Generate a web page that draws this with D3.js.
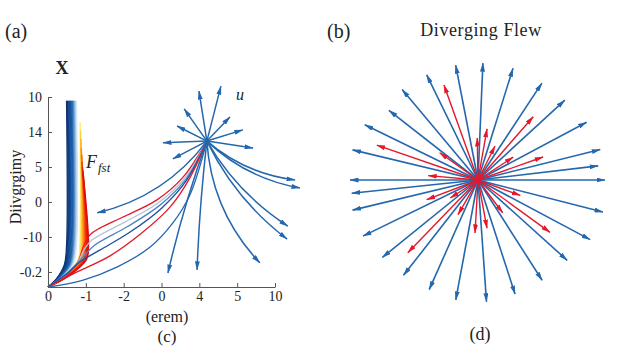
<!DOCTYPE html>
<html>
<head>
<meta charset="utf-8">
<script src="https://cdn.jsdelivr.net/npm/d3@7"></script>
<style>
  body { margin: 0; background: #fff; }
  text { font-family: "Liberation Serif", "Times New Roman", serif; fill: #222; }
</style>
</head>
<body>
<div id="chart"></div>
<script>
const width = 617
const height = 360
const blue = '#2467ad'
const red = '#e3192b'

// ---- left panel data (tick positions are index based, labels as printed)
const xTickLabels = ['0', '-1', '-2', '0', '4', '5', '10']
const yTickLabels = ['-0.2', '-10', '0', '5', '14', '10']

// vertical colour band made of many lines
const bandBlueX = [0.49, 0.51, 0.53, 0.55, 0.57, 0.59, 0.61, 0.63, 0.65, 0.67, 0.69, 0.71, 0.73, 0.75]
const bandWarmBottomX = [0.84, 0.87, 0.90, 0.93, 0.96, 0.99, 1.02, 1.05, 1.07]
const bandWarmTopX = [0.85, 0.86, 0.87, 0.88, 0.89, 0.90, 0.91, 0.92, 0.93]
const bandWarmTopY = [4.28, 4.05, 3.8, 3.55, 3.35, 3.15, 3.0, 2.9, 2.8]
const bandWarmColors = ['#ffe97a', '#ffd23a', '#ffb21f', '#ff8c14', '#fb6410', '#f3400c', '#ea220b', '#e2120c', '#d90d0d']

// curves from origin to the source point
const fanCurves = [
  [[0, -0.43], [0.48, -0.09], [0.79, 0.29], [0.95, 0.77], [1.11, 1.06], [1.38, 1.26], [1.98, 1.57], [2.88, 2.06], [3.57, 2.71], [4.2, 3.74]],
  [[0, -0.43], [0.5, -0.05], [0.8, 0.3], [0.95, 0.63], [1.16, 0.91], [2.04, 1.43], [2.91, 1.97], [3.62, 2.69], [4.2, 3.74]],
  [[0, -0.43], [0.52, -0.02], [0.82, 0.3], [0.98, 0.49], [1.24, 0.77], [2.09, 1.29], [2.96, 1.91], [3.65, 2.66], [4.2, 3.74]],
  [[0, -0.43], [0.5, -0.05], [0.85, 0.29], [1.38, 0.63], [2.17, 1.14], [3.01, 1.83], [3.67, 2.63], [4.2, 3.74]],
  [[0, -0.43], [0.77, 0], [1.64, 0.46], [2.51, 1.14], [3.23, 1.86], [3.75, 2.69], [4.2, 3.74]],
  [[0, -0.43], [0.93, -0.23], [1.82, 0.14], [2.7, 0.71], [3.3, 1.4], [3.75, 2.2], [4.2, 3.74]],
]
const fanColors = [red, '#b4c3d6', '#4a86c5', '#1f4e9c', red, blue]

// arrows out of the source point u
const source = [4.2, 3.74]
const sourceTips = [
  [3.99, 5.17], [4.57, 5.31], [3.04, 3.69], [3.60, 4.66], [3.41, 4.17], [3.30, 3.23],
  [4.81, 4.43], [5.15, 4.06], [5.42, 3.54], [6.53, 2.63], [6.66, 2.4], [6.34, 1.31],
  [6.32, 0.94], [5.60, 0.26], [3.94, 0.06], [3.17, -0.03], [1.30, 1.69],
]
const sourceBend = [0, 0, 0, 0, 0, 0, 0, 0, 0, 0.15, 0.15, 0.12, 0.12, 0.18, 0.02, 0.03, -0.18]

// ---- right panel data: angle (deg) and length
const blueAngles = [0, 6.7, 14, 28, 42.6, 56.6, 72.6, 87.6, 101, 116, 130, 142, 154, 166.5, 180, 186, 193.5, 206, 219, 232, 246, 259.5, 274, 288, 302.6, 318, 332, 345.6]
const blueLengths = [1.27, 1.21, 1.26, 1.23, 1.18, 1.16, 1.17, 1.17, 1.17, 1.17, 1.18, 1.13, 1.26, 1.29, 1.28, 1.27, 1.29, 1.28, 1.23, 1.21, 1.20, 1.22, 1.22, 1.20, 1.19, 1.20, 1.27, 1.29]
const redAngles = [19.5, 33, 48.9, 63.4, 80, 91, 109.7, 144.6, 161, 175, 201, 213, 226, 240, 266.8, 280.6, 307, 324, 340]
const redLengths = [0.69, 0.42, 0.84, 0.38, 0.52, 0.42, 1.01, 0.47, 1.07, 0.50, 0.55, 0.33, 1.01, 0.40, 0.53, 0.49, 0.41, 0.89, 0.45]

const svg = d3.select('#chart').append('svg').attr('width', width).attr('height', height)
  .style('background', '#fff')

const defs = svg.append('defs')
function addMarker(id, color, len, wid) {
  defs.append('marker')
    .attr('id', id)
    .attr('viewBox', `0 ${-wid / 2} ${len} ${wid}`)
    .attr('refX', len - 0.5).attr('refY', 0)
    .attr('markerUnits', 'userSpaceOnUse')
    .attr('markerWidth', len).attr('markerHeight', wid)
    .attr('orient', 'auto')
    .append('path')
    .attr('d', `M0,${-wid / 2}L${len},0L0,${wid / 2}Z`)
    .attr('fill', color)
}
addMarker('head-blue', blue, 9, 5)
addMarker('head-red', red, 9, 5)

// ================= left panel =================
const x = d3.scaleLinear().domain([0, 6]).range([48, 275])
const y = d3.scaleLinear().domain([-0.43, 5]).range([287, 97])

const left = svg.append('g').attr('class', 'leftPanel')

const line = d3.line().x(d => x(d[0])).y(d => y(d[1])).curve(d3.curveCatmullRom.alpha(0.5))

// warm band (drawn first, blue band sits on its left)
bandWarmBottomX.forEach((bx, i) => {
  left.append('path')
    .attr('d', line([[0, -0.43], [bx * 0.5, -0.12], [bx * 0.95, 0.35], [bx, 0.7], [bandWarmTopX[i], bandWarmTopY[i]]]))
    .attr('fill', 'none').attr('stroke', bandWarmColors[i]).attr('stroke-width', 1.4)
})
// blue band
const blueBandColor = d3.scaleLinear().domain([0, 0.6, 1]).range(['#0a2f70', '#1f63b0', '#cfe8f7'])
bandBlueX.forEach((bx, i) => {
  left.append('path')
    .attr('d', line([[0, -0.43], [bx * 0.45, -0.2], [bx * 0.88, 0.2], [bx, 0.75], [bx, 4.89]]))
    .attr('fill', 'none').attr('stroke', blueBandColor(i / (bandBlueX.length - 1))).attr('stroke-width', 1.3)
})

// fan of curves
fanCurves.forEach((c, i) => {
  left.append('path')
    .attr('d', line(c))
    .attr('fill', 'none').attr('stroke', fanColors[i]).attr('stroke-width', 1.3)
})

// arrows from source
const sx = x(source[0]), sy = y(source[1])
sourceTips.forEach((t, i) => {
  const tx = x(t[0]), ty = y(t[1])
  const dx = tx - sx, dy = ty - sy
  const b = sourceBend[i]
  const cx = (sx + tx) / 2 - b * dy
  const cy = (sy + ty) / 2 + b * dx
  const p = d3.path()
  p.moveTo(sx, sy)
  p.quadraticCurveTo(cx, cy, tx, ty)
  left.append('path')
    .attr('d', p.toString())
    .attr('fill', 'none').attr('stroke', blue).attr('stroke-width', 1.5)
    .attr('marker-end', 'url(#head-blue)')
})

// axes
const xAxis = d3.axisBottom(x).tickValues(d3.range(xTickLabels.length))
  .tickFormat(i => xTickLabels[i]).tickSizeInner(-4).tickSizeOuter(0).tickPadding(4)
const yAxis = d3.axisLeft(y).tickValues(d3.range(yTickLabels.length))
  .tickFormat(i => yTickLabels[i]).tickSizeInner(-4).tickSizeOuter(0).tickPadding(6)

const xAxisGroup = left.append('g').attr('transform', `translate(0, ${y(-0.43)})`).call(xAxis)
const yAxisGroup = left.append('g').attr('transform', `translate(${x(0)}, 0)`).call(yAxis)
left.selectAll('.domain').attr('stroke', '#555')
left.selectAll('.tick line').attr('stroke', '#555')
left.selectAll('.tick text')
  .attr('font-family', '"Liberation Serif", serif')
  .attr('font-size', 14)
  .attr('fill', '#333')

// labels
svg.append('text').attr('x', 5).attr('y', 38).attr('font-size', 20).text('(a)')
svg.append('text').attr('x', 62).attr('y', 74).attr('font-size', 18).attr('font-weight', 'bold').attr('text-anchor', 'middle').text('X')
svg.append('text').attr('transform', 'translate(21, 187) rotate(-90)').attr('text-anchor', 'middle').attr('font-size', 16).text('Diivgrgimy')
svg.append('text').attr('x', 167).attr('y', 322).attr('text-anchor', 'middle').attr('font-size', 16).text('(erem)')
svg.append('text').attr('x', 167).attr('y', 342).attr('text-anchor', 'middle').attr('font-size', 17).text('(c)')
svg.append('text').attr('x', 236).attr('y', 100).attr('font-size', 16).attr('font-style', 'italic').text('u')
const fLabel = svg.append('text').attr('x', 86).attr('y', 168).attr('font-size', 18).attr('font-style', 'italic')
fLabel.append('tspan').text('F')
fLabel.append('tspan').attr('font-size', 13).attr('dy', 4).attr('dx', 1).text('fst')

// ================= right panel =================
const cxR = 478, cyR = 180
const xR = d3.scaleLinear().domain([-1, 1]).range([cxR - 100, cxR + 100])
const yR = d3.scaleLinear().domain([-1, 1]).range([cyR + 100, cyR - 100])
const right = svg.append('g').attr('class', 'rightPanel')

function drawStar(angles, lengths, color, marker, sw) {
  right.selectAll(null)
    .data(angles.map((a, i) => ({ a: a * Math.PI / 180, l: lengths[i] })))
    .enter()
    .append('line')
    .attr('x1', xR(0)).attr('y1', yR(0))
    .attr('x2', d => xR(d.l * Math.cos(d.a)))
    .attr('y2', d => yR(d.l * Math.sin(d.a)))
    .attr('stroke', color).attr('stroke-width', sw)
    .attr('marker-end', `url(#${marker})`)
}
drawStar(blueAngles, blueLengths, blue, 'head-blue', 1.6)
drawStar(redAngles, redLengths, red, 'head-red', 1.4)

svg.append('text').attr('x', 327).attr('y', 38).attr('font-size', 20).text('(b)')
svg.append('text').attr('x', 481).attr('y', 36).attr('text-anchor', 'middle').attr('font-size', 18).attr('letter-spacing', 0.6).text('Diverging Flew')
svg.append('text').attr('x', 480).attr('y', 340).attr('text-anchor', 'middle').attr('font-size', 18).text('(d)')
</script>
</body>
</html>
